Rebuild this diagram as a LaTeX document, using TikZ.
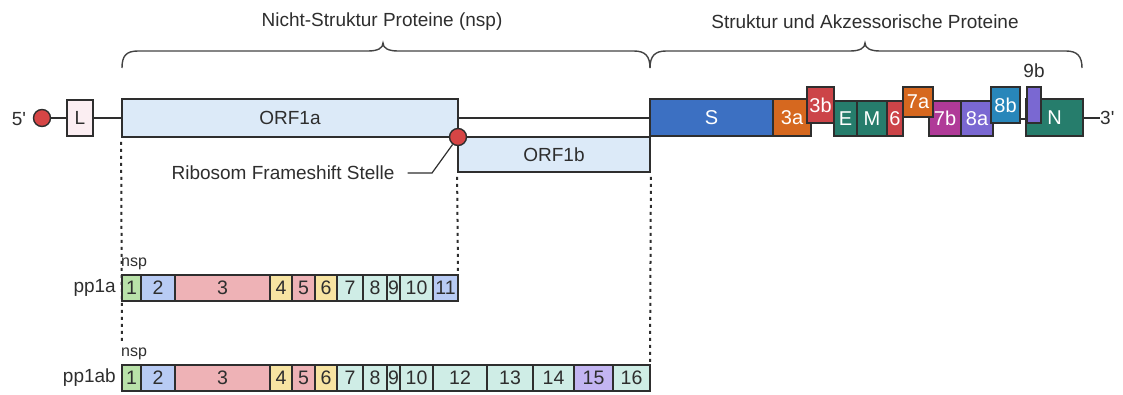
\documentclass[tikz,border=0pt]{standalone}
\usepackage{fontspec}
\setmainfont{Liberation Sans}[Ligatures=TeXOff]
\definecolor{ink}{HTML}{2E2E2E}
\definecolor{orfblue}{HTML}{DCEAF8}
\definecolor{lpink}{HTML}{FBEEF2}
\definecolor{capred}{HTML}{D64545}
\definecolor{gS}{HTML}{3C70C2}
\definecolor{gOr}{HTML}{D6681F}
\definecolor{gRd}{HTML}{CC4448}
\definecolor{gTe}{HTML}{267D6C}
\definecolor{gMa}{HTML}{B03A98}
\definecolor{gPu}{HTML}{7A68D2}
\definecolor{gBl}{HTML}{2886BA}
\definecolor{nGr}{HTML}{B9E2A9}
\definecolor{nBl}{HTML}{B8CBF4}
\definecolor{nPk}{HTML}{EEB2B6}
\definecolor{nYe}{HTML}{F7E4A2}
\definecolor{nTe}{HTML}{CFEDE6}
\definecolor{nPu}{HTML}{C3B5F2}
\tikzset{
  box/.style={draw=ink, line width=1.8pt, inner sep=0pt, text=ink, font=\fontsize{19}{21}\selectfont},
  gene/.style={box, text=white, font=\fontsize{20}{22}\selectfont},
  seg/.style={draw=ink, line width=1.5pt, inner sep=0pt, text=ink, font=\fontsize{19.5}{21}\selectfont},
  lbl/.style={text=ink, inner sep=0pt, font=\fontsize{19}{21}\selectfont},
  small/.style={text=ink, inner sep=0pt, font=\fontsize{16}{18}\selectfont},
  conn/.style={draw=ink, line width=1.8pt},
  dots/.style={draw=ink, line width=2pt, dash pattern=on 3pt off 4pt},
  brace/.style={draw=ink!90, line width=1.4pt},
}
\newcommand{\bx}[8]{%
  \node[#1, fill=#6, minimum width={(#4)-(#2)}, minimum height={(#5)-(#3)}]
    (#7) at ({((#2)+(#4))/2},{((#3)+(#5))/2}) {#8};}
\begin{document}
\begin{tikzpicture}[x=1pt,y=-1pt]
\useasboundingbox (0,0) rectangle (1123,394);
% titles
\node[lbl] (t1) at (382,22) {Nicht-Struktur Proteine (nsp)};
\node[lbl] (t2) at (865,22) {Struktur und Akzessorische Proteine};
% braces
\draw[brace] (122,68) .. controls (122,56) and (126,51) .. (138,51) -- (368,51)
  .. controls (378,51) and (383,48) .. (383,43) .. controls (383,48) and (388,51) .. (398,51)
  -- (634,51) .. controls (645,51) and (650,56) .. (650,68);
\draw[brace] (650,68) .. controls (650,56) and (655,51) .. (666,51) -- (850,51)
  .. controls (860,51) and (865,48) .. (865,43) .. controls (865,48) and (870,51) .. (880,51)
  -- (1066,51) .. controls (1077,51) and (1082,56) .. (1082,68);
% nodes of genome
\node[lbl] (five) at (19,119) {5'};
\node[circle, fill=capred, draw=ink, line width=1.4pt, minimum size=17pt, inner sep=0pt] (cap) at (42,118) {};
\bx{box}{67}{100}{93}{136}{lpink}{L}{L}
\bx{box}{122}{99}{458}{137}{orfblue}{orf1a}{ORF1a}
\bx{box}{458}{137}{650}{172}{orfblue}{orf1b}{ORF1b}
% dotted guides
\coordinate (d1) at (122,342);
\coordinate (d2) at (458,275);
\coordinate (d3) at (650,365);
\draw[dots] ([yshift=-4pt]orf1a.south west) -- (d1);
\draw[dots] ([yshift=-4pt]orf1b.south west) -- (d2);
\draw[dots] ([yshift=-4pt]orf1b.south east) -- (d3);
% connectors
\draw[conn] (cap) -- (L);
\draw[conn] (L) -- (orf1a.west |- L.east);
% genes
\bx{gene}{650}{99}{773}{136}{gS}{S}{S}
\draw[conn] (orf1a.east) -- (orf1a.east -| S.west);
\bx{gene}{773}{99}{811}{136}{gOr}{g3a}{3a}
\bx{gene}{807}{87}{834}{123}{gRd}{g3b}{3b}
\bx{gene}{834}{101}{857}{136}{gTe}{E}{E}
\bx{gene}{857}{101}{887}{136}{gTe}{M}{M}
\bx{gene}{887}{101}{903}{136}{gRd}{g6}{6}
\bx{gene}{929}{101}{961}{136}{gMa}{g7b}{7b}
\bx{gene}{903}{87}{933}{117}{gOr}{g7a}{7a}
\bx{gene}{961}{101}{993}{136}{gPu}{g8a}{8a}
\bx{gene}{991}{87}{1020}{123}{gBl}{g8b}{8b}
\bx{gene}{1026}{99}{1083}{136}{gTe}{N}{N}
\coordinate (k9) at (1027,119);
\draw[conn] (g8b.east |- k9) -- (k9);
\bx{gene}{1027}{87}{1041}{123}{gPu}{g9b}{}
\node[lbl] (l9b) at (1034,71) {9b};
\node[lbl, anchor=west] (three) at (1100,118) {3'};
\draw[conn] (N.east |- three.west) -- (three.west);
% frameshift
\node[circle, fill=capred, draw=ink, line width=1.4pt, minimum size=17pt, inner sep=0pt] (fs) at (458,137) {};
\node[lbl] (rib) at (283,173) {Ribosom Frameshift Stelle};
\coordinate (k1) at (432,173);
\draw[conn, line width=1.2pt] ([xshift=13pt]rib.east) -- (k1) -- (fs);
% pp1a
\node[lbl, anchor=east] (pp1a) at (116,288) {pp1a};
\node[small, anchor=south west] (nsp1) at (121,270) {nsp};
\bx{seg}{122}{275}{141}{301}{nGr}{a1}{1}
\bx{seg}{141}{275}{175}{301}{nBl}{a2}{2}
\bx{seg}{175}{275}{270}{301}{nPk}{a3}{3}
\bx{seg}{270}{275}{292}{301}{nYe}{a4}{4}
\bx{seg}{292}{275}{315}{301}{nPk}{a5}{5}
\bx{seg}{315}{275}{337}{301}{nYe}{a6}{6}
\bx{seg}{337}{275}{363}{301}{nTe}{a7}{7}
\bx{seg}{363}{275}{387}{301}{nTe}{a8}{8}
\bx{seg}{387}{275}{400}{301}{nTe}{a9}{9}
\bx{seg}{400}{275}{433}{301}{nTe}{a10}{10}
\bx{seg}{433}{275}{458}{301}{nBl}{a11}{11}
% pp1ab
\node[lbl, anchor=east] (pp1ab) at (116,378) {pp1ab};
\node[small, anchor=south west] (nsp2) at (121,360) {nsp};
\bx{seg}{122}{365}{141}{391}{nGr}{b1}{1}
\bx{seg}{141}{365}{175}{391}{nBl}{b2}{2}
\bx{seg}{175}{365}{270}{391}{nPk}{b3}{3}
\bx{seg}{270}{365}{292}{391}{nYe}{b4}{4}
\bx{seg}{292}{365}{315}{391}{nPk}{b5}{5}
\bx{seg}{315}{365}{337}{391}{nYe}{b6}{6}
\bx{seg}{337}{365}{363}{391}{nTe}{b7}{7}
\bx{seg}{363}{365}{387}{391}{nTe}{b8}{8}
\bx{seg}{387}{365}{400}{391}{nTe}{b9}{9}
\bx{seg}{400}{365}{433}{391}{nTe}{b10}{10}
\bx{seg}{433}{365}{487}{391}{nTe}{b12}{12}
\bx{seg}{487}{365}{533}{391}{nTe}{b13}{13}
\bx{seg}{533}{365}{574}{391}{nTe}{b14}{14}
\bx{seg}{574}{365}{613}{391}{nPu}{b15}{15}
\bx{seg}{613}{365}{650}{391}{nTe}{b16}{16}
\end{tikzpicture}
\end{document}
